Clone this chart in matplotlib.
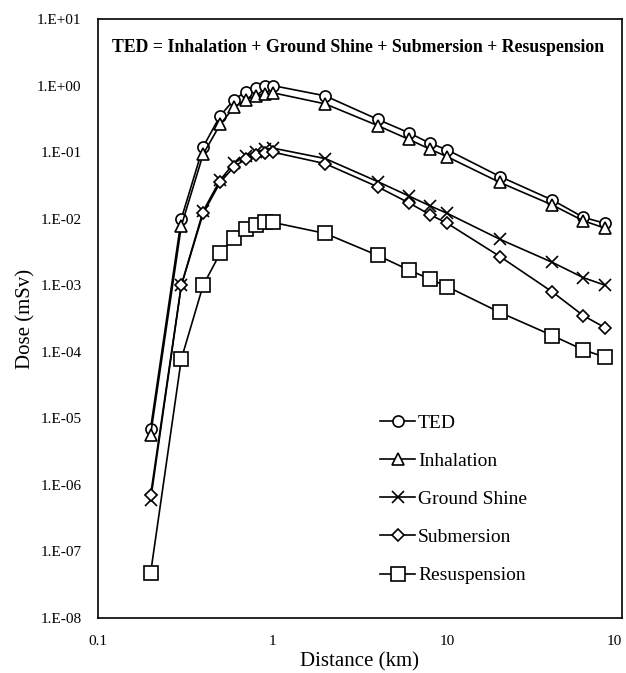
import matplotlib
matplotlib.use("Agg")
import matplotlib.pyplot as plt
from matplotlib.ticker import FixedLocator, NullLocator

plt.rcParams['font.family'] = ['Liberation Serif', 'DejaVu Serif']

distance = [0.2, 0.3, 0.4, 0.5, 0.6, 0.7, 0.8, 0.9, 1.0, 2, 4, 6, 8, 10, 20, 40, 60, 80]

ted = [7.0e-6, 1.0e-2, 0.12, 0.35, 0.61, 0.81, 0.93, 0.99, 1.0, 0.70, 0.31,
       0.196, 0.135, 0.108, 0.043, 0.019, 0.0105, 0.0085]
inhalation = [5.6e-6, 7.8e-3, 0.093, 0.26, 0.47, 0.61, 0.70, 0.75, 0.78, 0.53, 0.25,
              0.156, 0.11, 0.085, 0.035, 0.016, 0.0093, 0.0072]
ground_shine = [5.9e-7, 1.0e-3, 0.013, 0.038, 0.068, 0.088, 0.10, 0.11, 0.115, 0.08, 0.036,
                0.022, 0.0155, 0.012, 0.0049, 0.0022, 0.0013, 0.001]
submersion = [7.0e-7, 1.0e-3, 0.012, 0.035, 0.060, 0.078, 0.090, 0.096, 0.10, 0.067, 0.030,
              0.0174, 0.0114, 0.0085, 0.0027, 0.00079, 0.00035, 0.00023]
resuspension = [4.7e-8, 7.8e-5, 1.0e-3, 3.0e-3, 5.2e-3, 6.9e-3, 8.0e-3, 8.8e-3, 8.8e-3, 6.0e-3, 2.8e-3,
                1.7e-3, 1.23e-3, 9.5e-4, 3.9e-4, 1.75e-4, 1.07e-4, 8.3e-5]

# the last label is shown clipped to "10" in the source chart
xticks = [0.1, 1, 10, 100]
xticklabels = ["0.1", "1", "10", "10"]
yticks = [1e-8, 1e-7, 1e-6, 1e-5, 1e-4, 1e-3, 1e-2, 1e-1, 1e0, 1e1]
yticklabels = ["1.E-08", "1.E-07", "1.E-06", "1.E-05", "1.E-04",
               "1.E-03", "1.E-02", "1.E-01", "1.E+00", "1.E+01"]

fig = plt.figure(figsize=(6.26, 6.73), dpi=100)
ax = fig.add_axes([98/626, 1-618/673, 524/626, 599/673])

lw = 1.2
ax.plot(distance, ted, '-o', color='black', lw=lw, ms=8, mfc='white', mew=1.2, label='TED')
ax.plot(distance, inhalation, '-^', color='black', lw=lw, ms=8, mfc='white', mew=1.2, label='Inhalation')
ax.plot(distance, ground_shine, '-x', color='black', lw=lw, ms=8.5, mew=1.2, label='Ground Shine')
ax.plot(distance, submersion, '-D', color='black', lw=lw, ms=6, mfc='white', mew=1.2, label='Submersion')
ax.plot(distance, resuspension, '-s', color='black', lw=lw, ms=10, mfc='white', mew=1.2, label='Resuspension')

ax.set_xscale('log')
ax.set_yscale('log')
ax.set_xlim(0.1, 100)
ax.set_ylim(1e-8, 10)

ax.xaxis.set_major_locator(FixedLocator(xticks))
ax.xaxis.set_minor_locator(NullLocator())
ax.set_xticklabels(xticklabels, fontsize=11)
ax.yaxis.set_major_locator(FixedLocator(yticks))
ax.yaxis.set_minor_locator(NullLocator())
ax.set_yticklabels(yticklabels, fontsize=11)
ax.tick_params(length=0, pad=12)
ax.get_xticklabels()[-1].set_horizontalalignment('right')

for s in ax.spines.values():
    s.set_linewidth(1.2)

ax.set_xlabel('Distance (km)', fontsize=15, labelpad=3)
ax.set_ylabel('Dose (mSv)', fontsize=15, labelpad=1)

ax.text(0.496, 0.953, 'TED = Inhalation + Ground Shine + Submersion + Resuspension',
        transform=ax.transAxes, ha='center', va='center', fontsize=12.8, fontweight='bold')

ax.legend(loc='upper left', bbox_to_anchor=(380/626, 1-414/673), bbox_transform=fig.transFigure,
          frameon=False, fontsize=14, handlelength=1.8, handletextpad=0.15,
          labelspacing=1.06, borderpad=0, borderaxespad=0)

fig.savefig('out.png', dpi=100)
